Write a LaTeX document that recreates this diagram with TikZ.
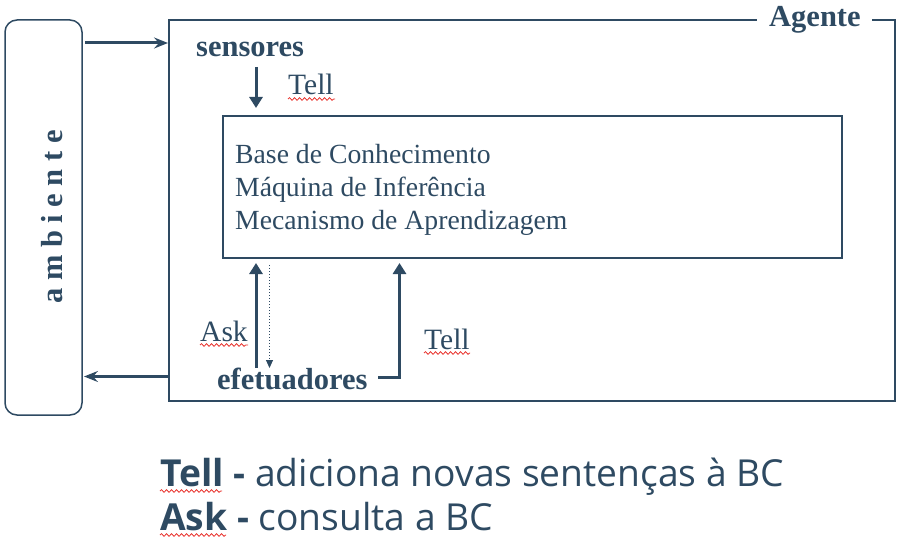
\documentclass[tikz,border=0pt]{standalone}
\usepackage{fontspec}
\setmainfont{Liberation Serif}
\newfontfamily\bottomfont{Open Sans}
\usetikzlibrary{arrows.meta,decorations.pathmorphing}
\definecolor{ink}{HTML}{2E4A62}
\definecolor{squig}{HTML}{E8302A}
\tikzset{
  frame/.style={draw=ink,line width=1.5pt},
  bigarrow/.style={draw=ink,line width=3pt,-{Stealth[length=14pt,width=11pt,inset=5pt]}},
  vert/.style={draw=ink,line width=3pt,-{Triangle[length=11pt,width=13pt]}},
  dotarrow/.style={draw=ink,line width=1pt,dotted,-{Triangle[length=8pt,width=7pt]}},
  reg/.style={inner sep=0pt,text=ink,font=\fontsize{27.7}{34}\selectfont},
  lbl/.style={inner sep=0pt,text=ink,font=\fontsize{29.5}{34}\selectfont},
  bld/.style={inner sep=0pt,text=ink,font=\fontsize{30.5}{36}\selectfont\bfseries},
  btm/.style={inner sep=0pt,text=ink,font=\bottomfont\fontsize{37.2}{44}\selectfont},
  wavy/.style={draw=squig,line width=0.8pt,decorate,decoration={snake,amplitude=1.3pt,segment length=5pt}}
}
\begin{document}
\begin{tikzpicture}[x=1pt,y=-1pt]
\useasboundingbox (0,0) rectangle (903,543);
% ambiente box
\node[draw=ink,line width=1.5pt,rounded corners=12pt,minimum width=77pt,minimum height=395pt,inner sep=0pt] (amb) at (43.5,217.5) {};
\node[bld,rotate=90] (ambtxt) at (52,217) {a m b i e n t e};
% agent frame
\coordinate (ag1) at (757,20);
\coordinate (ag2) at (895,20);
\coordinate (ag3) at (895,401);
\coordinate (ag4) at (169,401);
\coordinate (ag5) at (169,20);
\coordinate (ag6) at (872,20);
\draw[frame] (ag6) -- (ag2) -- (ag3) -- (ag4) -- (ag5) -- (ag1);
\node[bld,anchor=base west] (agente) at (769,27) {Agente};
% inner box
\node[frame,minimum width=619pt,minimum height=142pt,inner sep=0pt] (kb) at (532.5,187) {};
\node[reg,anchor=base west] (l1) at (235,163) {Base de Conhecimento};
\node[reg,anchor=base west] (l2) at (235,196.5) {Máquina de Inferência};
\node[reg,anchor=base west] (l3) at (235,229.5) {Mecanismo de Aprendizagem};
% sensores
\node[bld,anchor=base west] (sens) at (196,57) {sensores};
\node[lbl,anchor=base west] (tell1) at (288,95) {Tell};
\coordinate (s1) at (256,67);
\coordinate (s2) at (256,108);
\draw[vert] (s1) -- (s2);
% efetuadores
\node[bld,anchor=base west] (efet) at (217,389) {efetuadores};
\node[lbl,anchor=base west] (ask1) at (200,341) {Ask};
\node[lbl,anchor=base west] (tell2) at (424,349) {Tell};
\coordinate (a1) at (256,368);
\coordinate (a2) at (256,263);
\draw[vert] (a1) -- (a2);
\coordinate (d1) at (269.5,265);
\coordinate (d2) at (269.5,368);
\draw[dotarrow] (d1) -- (d2);
\coordinate (t1) at (378,377);
\coordinate (t2) at (399.5,377);
\coordinate (t3) at (399.5,263);
\draw[vert] (t1) -- (t2) -- (t3);
% environment arrows
\coordinate (e1) at (85,43);
\coordinate (e2) at (168,43);
\draw[bigarrow] (e1) -- (e2);
\coordinate (f1) at (169,376.5);
\coordinate (f2) at (84,376.5);
\draw[bigarrow] (f1) -- (f2);
% bottom legend
\node[btm,anchor=base west] (leg1) at (160,486) {\textbf{Tell -} adiciona novas sentenças à BC};
\node[btm,anchor=base west] (leg2) at (160,530) {\textbf{Ask -} consulta a BC};
% spell-check squiggles
\coordinate (w1a) at (288,99); \coordinate (w1b) at (335,99);
\draw[wavy] (w1a) -- (w1b);
\coordinate (w2a) at (200,345); \coordinate (w2b) at (248,345);
\draw[wavy] (w2a) -- (w2b);
\coordinate (w3a) at (424,353); \coordinate (w3b) at (470,353);
\draw[wavy] (w3a) -- (w3b);
\coordinate (w4a) at (160,491); \coordinate (w4b) at (222,491);
\draw[wavy] (w4a) -- (w4b);
\coordinate (w5a) at (160,535); \coordinate (w5b) at (226,535);
\draw[wavy] (w5a) -- (w5b);
\end{tikzpicture}
\end{document}
